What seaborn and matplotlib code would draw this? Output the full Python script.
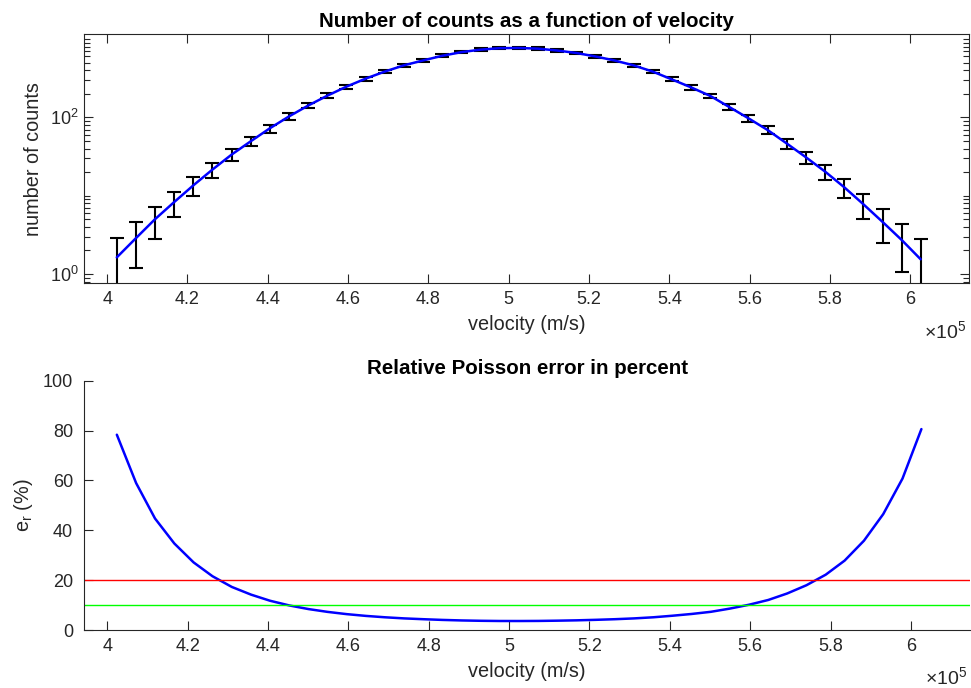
import numpy as np
import pandas as pd
import matplotlib
matplotlib.use("Agg")
import matplotlib.pyplot as plt
import seaborn as sns
from matplotlib.ticker import FixedLocator, LogLocator, NullFormatter, FuncFormatter

# bin centres of the velocity histogram, in units of 1e5 m/s
velocity_e5 = [4.024, 4.072, 4.119, 4.167, 4.215, 4.262, 4.310, 4.358, 4.405,
               4.453, 4.501, 4.548, 4.596, 4.644, 4.691, 4.739, 4.787, 4.834,
               4.882, 4.930, 4.977, 5.025, 5.073, 5.120, 5.168, 5.216, 5.263,
               5.311, 5.359, 5.406, 5.454, 5.502, 5.549, 5.597, 5.645, 5.692,
               5.740, 5.788, 5.835, 5.883, 5.931, 5.979, 6.026]
# counts per bin
counts = [1.63, 2.88, 5.0, 8.3, 13.6, 21.5, 33.5, 49.7, 72.5, 103,
          142, 189, 247, 313, 384, 462, 534, 611, 681, 733,
          766, 770, 755, 715, 665, 600, 534, 462, 384, 306,
          242, 188, 136, 97.4, 68.9, 46.6, 31.0, 20.3, 12.9, 7.8,
          4.63, 2.71, 1.54]
limits = [20, 10]            # percent
limit_colors = ["#ff0000", "#00ff00"]

df = pd.DataFrame({"velocity": np.array(velocity_e5) * 1e5, "counts": counts})
df["err"] = np.sqrt(df["counts"])            # Poisson error
df["rel_err"] = 100 * df["err"] / df["counts"]

sns.set_theme(style="ticks")
plt.rcParams["font.family"] = ["Liberation Sans", "DejaVu Sans"]
plt.rcParams["mathtext.fontset"] = "custom"
plt.rcParams["mathtext.rm"] = "Liberation Sans"
plt.rcParams["mathtext.it"] = "Liberation Sans:italic"
plt.rcParams["mathtext.bf"] = "Liberation Sans:bold"

dark = "#262626"
tick_fs = 13
label_fs = 14.3
title_fs = 14.8

fig = plt.figure(figsize=(9.71, 6.88), dpi=100)
ax1 = fig.add_axes([0.0868, 0.5882, 0.9114, 0.3619])
ax2 = fig.add_axes([0.0868, 0.0843, 0.9122, 0.3624])

v_fmt = FuncFormatter(lambda v, _: f"{v / 1e5:g}")
xticks = np.arange(4.0, 6.01, 0.2) * 1e5

# ---- top: counts with Poisson error bars ----
ax1.errorbar(df["velocity"], df["counts"], yerr=df["err"], fmt="none",
             ecolor="black", elinewidth=1.5, capsize=4.8, capthick=1.5, zorder=2)
sns.lineplot(data=df, x="velocity", y="counts", ax=ax1, color="#0000ff",
             lw=1.8, zorder=3)
ax1.set_yscale("log")
ax1.set_ylim(0.76, 1150)
ax1.set_xlim(3.943e5, 6.147e5)
ax1.set_xticks(xticks)
ax1.xaxis.set_major_formatter(v_fmt)
ax1.yaxis.set_major_locator(FixedLocator([1, 100]))
ax1.yaxis.set_minor_locator(LogLocator(base=10, subs=np.arange(1, 10), numticks=20))
ax1.yaxis.set_minor_formatter(NullFormatter())
ax1.tick_params(which="both", direction="in", top=True, right=True,
                color=dark, labelcolor=dark, labelsize=tick_fs, width=0.8)
ax1.tick_params(which="major", length=6.5)
ax1.tick_params(which="minor", length=4)
ax1.tick_params(axis="x", pad=5.5)
ax1.tick_params(axis="y", pad=4)
ax1.set_title("Number of counts as a function of velocity", fontsize=title_fs,
              fontweight="bold", color="black", pad=5)
ax1.set_xlabel("velocity (m/s)", fontsize=label_fs, color=dark, labelpad=5)
ax1.set_ylabel("number of counts", fontsize=label_fs, color=dark, labelpad=5)
for s in ax1.spines.values():
    s.set_color(dark)
    s.set_linewidth(0.8)
ax1.text(0.997, -0.147, r"$\times\mathdefault{10^{5}}$", transform=ax1.transAxes,
         ha="right", va="top", fontsize=tick_fs + 1, color=dark)

# ---- bottom: relative error ----
sns.lineplot(data=df, x="velocity", y="rel_err", ax=ax2, color="#0000ff", lw=1.8)
for lim, col in zip(limits, limit_colors):
    ax2.axhline(lim, color=col, lw=1.0)
ax2.set_ylim(0, 100)
ax2.set_xlim(3.943e5, 6.147e5)
ax2.set_xticks(xticks)
ax2.xaxis.set_major_formatter(v_fmt)
ax2.set_yticks(np.arange(0, 101, 20))
sns.despine(ax=ax2)
ax2.tick_params(direction="in", length=6.5, color=dark, labelcolor=dark,
                labelsize=tick_fs, width=0.8)
ax2.tick_params(axis="x", pad=5.5)
ax2.tick_params(axis="y", pad=8)
ax2.set_title("Relative Poisson error in percent", fontsize=title_fs,
              fontweight="bold", color="black", pad=5)
ax2.set_xlabel("velocity (m/s)", fontsize=label_fs, color=dark, labelpad=5)
ax2.set_ylabel(r"e$_\mathregular{r}$ (%)", fontsize=label_fs, color=dark, labelpad=6)
for s in ax2.spines.values():
    s.set_color(dark)
    s.set_linewidth(0.8)
ax2.text(0.997, -0.147, r"$\times\mathdefault{10^{5}}$", transform=ax2.transAxes,
         ha="right", va="top", fontsize=tick_fs + 1, color=dark)

fig.savefig("out.png", dpi=100)
